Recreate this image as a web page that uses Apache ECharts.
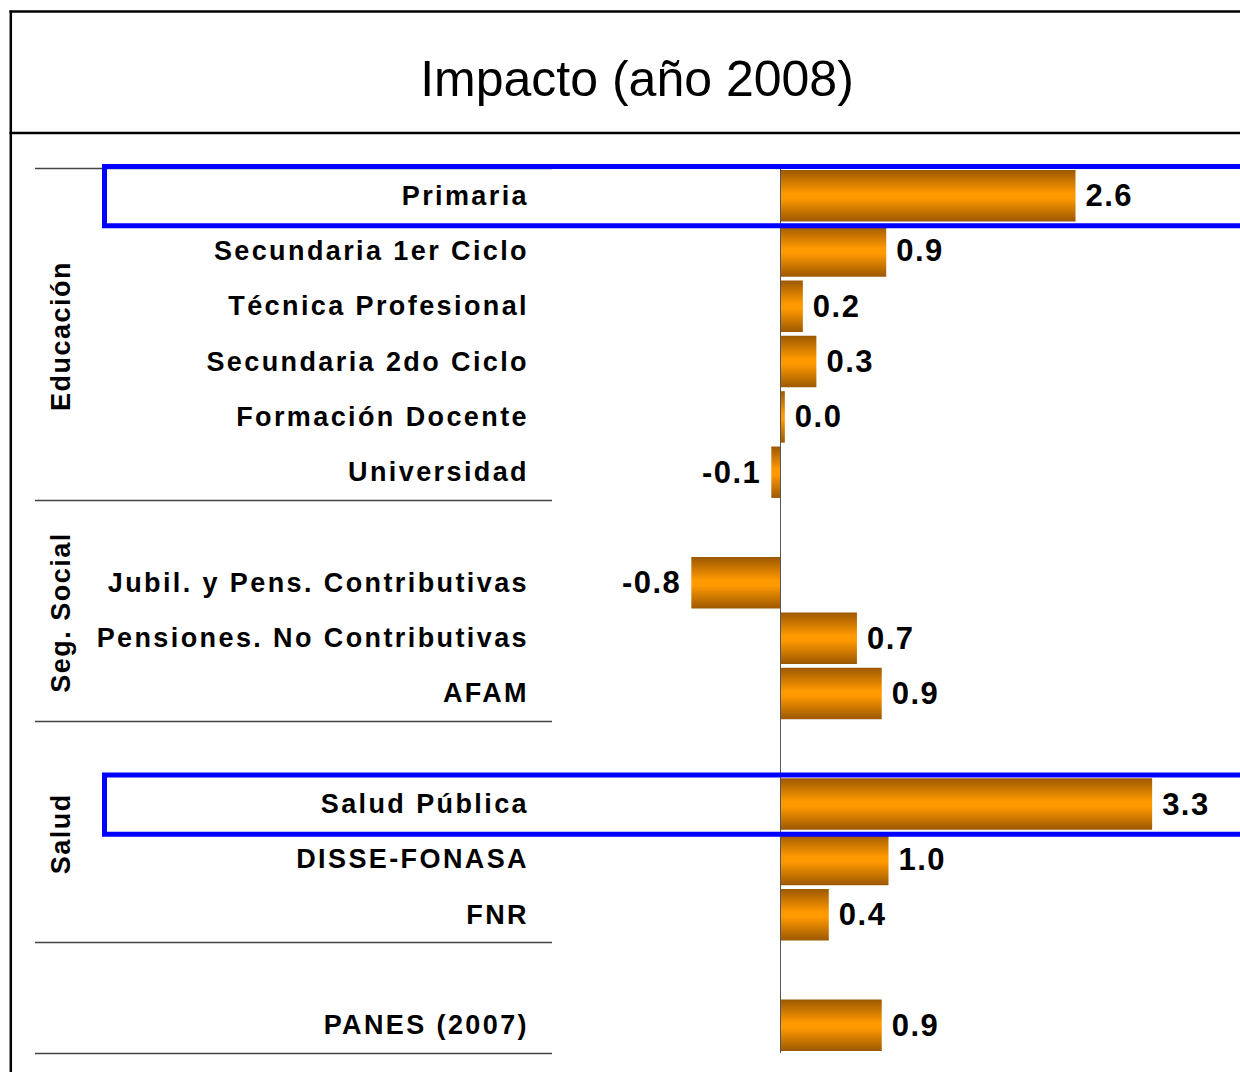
<!DOCTYPE html>
<html>
<head>
<meta charset="utf-8">
<script src="https://cdn.jsdelivr.net/npm/echarts@6/dist/echarts.min.js"></script>
<style>
  html, body { margin: 0; padding: 0; background: #ffffff; }
  #chart { width: 1240px; height: 1072px; }
</style>
</head>
<body>
<div id="chart"></div>
<script>
// ---------- data ----------
const chartTitle = 'Impacto (año 2008)';
const categories = [
  'Primaria', 'Secundaria 1er Ciclo', 'Técnica Profesional', 'Secundaria 2do Ciclo',
  'Formación Docente', 'Universidad', ' ',
  'Jubil. y Pens. Contributivas', 'Pensiones. No Contributivas', 'AFAM', '  ',
  'Salud Pública', 'DISSE-FONASA', 'FNR', '   ',
  'PANES (2007)'
];
const values = [
  2.62, 0.94, 0.20, 0.32,
  0.04, -0.08, null,
  -0.79, 0.68, 0.90, null,
  3.30, 0.96, 0.43, null,
  0.90
];
const groupNames = ['Educación', 'Seg. Social', 'Salud'];
const groupFirst = [0, 6, 10];
const groupLast = [5, 9, 13];
const separatorRows = [0, 6, 10, 14, 16];   // row index whose top edge gets a rule
const highlighted = ['Primaria', 'Salud Pública'];

// ---------- styles ----------
const FONT = '"Liberation Sans", Arial, Helvetica, sans-serif';
const barGradient = new echarts.graphic.LinearGradient(0, 0, 0, 1, [
  { offset: 0, color: '#9c5800' },
  { offset: 0.45, color: '#ff9900' },
  { offset: 0.55, color: '#ff9900' },
  { offset: 1, color: '#9c5800' }
]);

const chart = echarts.init(document.getElementById('chart'), null, { renderer: 'svg' });

const seriesData = values.map(v => v === null ? null : {
  value: v,
  label: { position: v < 0 ? 'left' : 'right' }
});

const option = {
  animation: false,
  backgroundColor: '#ffffff',
  title: {
    text: chartTitle,
    left: 632,
    top: 49,
    textAlign: 'center',
    textStyle: { fontFamily: FONT, fontSize: 50, fontWeight: 'normal', color: '#000', lineHeight: 50 }
  },
  grid: { left: 555, right: 9, top: 168, bottom: 19, containLabel: false },
  xAxis: {
    type: 'value', min: -2, max: 4, interval: 1,
    show: false
  },
  yAxis: {
    type: 'category',
    data: categories,
    inverse: true,
    axisLine: { show: false, onZero: false },
    axisTick: { show: false },
    splitLine: { show: false },
    axisLabel: {
      interval: 0,
      margin: 26,
      fontFamily: FONT, fontSize: 27, fontWeight: 'bold', color: '#000'
    }
  },
  series: [{
    type: 'bar',
    data: seriesData,
    barCategoryGap: '7%',
    itemStyle: { color: barGradient },
    label: {
      show: true,
      distance: 10,
      fontFamily: FONT, fontSize: 31, fontWeight: 'bold', color: '#000',
      formatter: p => p.value.toFixed(1)
    },
    markLine: {
      silent: true,
      symbol: 'none',
      label: { show: false },
      lineStyle: { color: '#555', width: 1, type: 'solid' },
      data: [{ xAxis: 0 }]
    }
  }]
};

chart.setOption(option);

// ---------- annotations placed through the axis scale ----------
const c0 = chart.convertToPixel({ yAxisIndex: 0 }, 0);
const c1 = chart.convertToPixel({ yAxisIndex: 0 }, 1);
const rowH = c1 - c0;
const rowTop = i => c0 + i * rowH - rowH / 2;

const graphics = [];
// frame
graphics.push({ type: 'line', shape: { x1: 9.5, y1: 11.5, x2: 1240, y2: 11.5 }, style: { stroke: '#000', lineWidth: 2.5 } });
graphics.push({ type: 'line', shape: { x1: 10.8, y1: 10.5, x2: 10.8, y2: 1072 }, style: { stroke: '#000', lineWidth: 2.5 } });
graphics.push({ type: 'line', shape: { x1: 9.5, y1: 133, x2: 1240, y2: 133 }, style: { stroke: '#000', lineWidth: 2.5 } });
// group separator rules
separatorRows.forEach(r => {
  const y = Math.round(rowTop(r)) + 0.5;
  graphics.push({ type: 'line', shape: { x1: 35, y1: y, x2: 552, y2: y }, style: { stroke: '#444', lineWidth: 1.5 } });
});
// group labels (vertical)
groupNames.forEach((g, k) => {
  const yc = (rowTop(groupFirst[k]) + rowTop(groupLast[k] + 1)) / 2;
  graphics.push({
    type: 'text', x: 61, y: yc + 2, rotation: Math.PI / 2,
    style: { text: g, fontFamily: FONT, fontSize: 27, fontWeight: 'bold', fill: '#000', align: 'center', verticalAlign: 'middle' }
  });
});
// highlight boxes
highlighted.forEach(name => {
  const i = categories.indexOf(name);
  const top = rowTop(i) - 1.5;
  const bottom = rowTop(i + 1) + 2.5;
  graphics.push({
    type: 'rect', z: 100,
    shape: { x: 104.5, y: top, width: 1200, height: bottom - top },
    style: { fill: 'none', stroke: '#0000ff', lineWidth: 5 }
  });
});
chart.setOption({ graphic: graphics });

// letter spacing of the bold texts (as in the original rendering)
function applySpacing() {
  document.querySelectorAll('#chart svg text').forEach(t => {
    const cs = getComputedStyle(t);
    const bold = cs.fontWeight === '700' || cs.fontWeight === 'bold';
    if (!bold) return;
    const txt = t.textContent;
    let ls = '1.5px';
    if (categories.indexOf(txt) >= 0) ls = '2.4px';
    t.style.letterSpacing = ls;
  });
}
applySpacing();
chart.on('finished', applySpacing);
setTimeout(applySpacing, 50);
</script>
</body>
</html>
